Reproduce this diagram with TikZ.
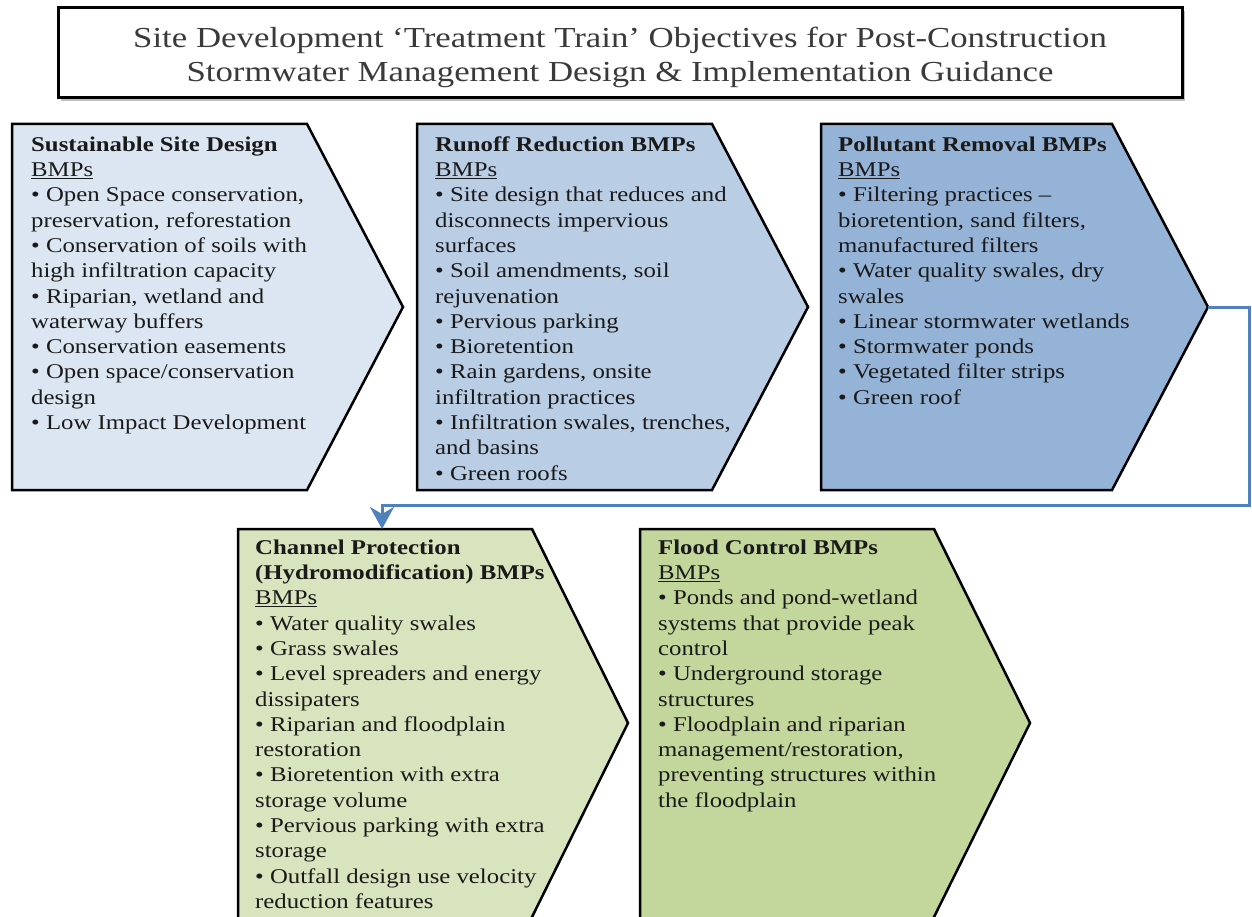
\documentclass[tikz,border=0pt]{standalone}
\usepackage{fontspec}
\setmainfont{Liberation Serif}
\newfontfamily\bodyfont{Liberation Serif}[FakeStretch=1.18]
\newfontfamily\titlefont{Liberation Serif}[FakeStretch=1.2]
\usetikzlibrary{arrows.meta}
\definecolor{fillA}{HTML}{DCE6F2}
\definecolor{fillB}{HTML}{B9CDE5}
\definecolor{fillC}{HTML}{95B3D7}
\definecolor{fillD}{HTML}{D7E4BD}
\definecolor{fillE}{HTML}{C3D69B}
\definecolor{txt}{HTML}{1A1A1A}
\definecolor{ttxt}{HTML}{3A3A3A}
\definecolor{conncol}{HTML}{4F81BD}
\begin{document}
\begin{tikzpicture}[x=1pt,y=-1pt,
  chev/.style={draw=black, line width=2.5pt, line join=miter},
  body/.style={anchor=north west, inner sep=0pt, align=left, text=txt,
    font=\bodyfont\fontsize{21}{25.3}\selectfont},
  titlebox/.style={draw=black, line width=3pt, fill=white, minimum width=1124pt,
    minimum height=90pt, inner sep=0pt},
  titletext/.style={inner sep=0pt, align=center, text=ttxt,
    font=\titlefont\fontsize{29}{34}\selectfont},
  conn/.style={draw=conncol, line width=3pt,
    -{Stealth[length=22pt, width=24pt, inset=7pt]}}]
\useasboundingbox (0,0) rectangle (1252,917);
\clip (0,0) rectangle (1252,917);
\fill[white] (0,0) rectangle (1252,917);

% title
\fill[gray!50] (61,11) rectangle (1185,101);
\node[titlebox] (titlebox) at (620,53) {};
\node[titletext] (title) at (620,57) {Site Development ‘Treatment Train’ Objectives for Post-Construction\\Stormwater Management Design \& Implementation Guidance};

% chevrons top row
\draw[chev, fill=fillA] (12,124) -- (307,124) -- (403,307) -- (307,490) -- (12,490) -- cycle;
\draw[chev, fill=fillB] (417,124) -- (712,124) -- (808,307) -- (712,490) -- (417,490) -- cycle;
\draw[chev, fill=fillC] (821,124) -- (1112,124) -- (1208,307) -- (1112,490) -- (821,490) -- cycle;
% bottom row
\draw[chev, fill=fillD] (238,940) -- (238,529) -- (532,529) -- (628,723) -- (532,917) -- (541,935);
\draw[chev, fill=fillE] (640,940) -- (640,529) -- (934,529) -- (1030,723) -- (934,917) -- (943,935);

\coordinate (tip3) at (1208,307);
\coordinate (chtop) at (382,529);

% texts
\node[body] (t1) at (31,133.3) {\strut\textbf{Sustainable Site Design}\\
\underline{BMPs}\\
• Open Space conservation,\\
preservation, reforestation\\
• Conservation of soils with\\
high infiltration capacity\\
• Riparian, wetland and\\
waterway buffers\\
• Conservation easements\\
• Open space/conservation\\
design\\
• Low Impact Development};

\node[body] (t2) at (435,133.3) {\strut\textbf{Runoff Reduction BMPs}\\
\underline{BMPs}\\
• Site design that reduces and\\
disconnects impervious\\
surfaces\\
• Soil amendments, soil\\
rejuvenation\\
• Pervious parking\\
• Bioretention\\
• Rain gardens, onsite\\
infiltration practices\\
• Infiltration swales, trenches,\\
and basins\\
• Green roofs};

\node[body] (t3) at (838,133.3) {\strut\textbf{Pollutant Removal BMPs}\\
\underline{BMPs}\\
• Filtering practices –\\
bioretention, sand filters,\\
manufactured filters\\
• Water quality swales, dry\\
swales\\
• Linear stormwater wetlands\\
• Stormwater ponds\\
• Vegetated filter strips\\
• Green roof};

\node[body] (t4) at (255,536.3) {\strut\textbf{Channel Protection}\\
\textbf{(Hydromodification) BMPs}\\
\underline{BMPs}\\
• Water quality swales\\
• Grass swales\\
• Level spreaders and energy\\
dissipaters\\
• Riparian and floodplain\\
restoration\\
• Bioretention with extra\\
storage volume\\
• Pervious parking with extra\\
storage\\
• Outfall design use velocity\\
reduction features};

\node[body] (t5) at (658,536.3) {\strut\textbf{Flood Control BMPs}\\
\underline{BMPs}\\
• Ponds and pond-wetland\\
systems that provide peak\\
control\\
• Underground storage\\
structures\\
• Floodplain and riparian\\
management/restoration,\\
preventing structures within\\
the floodplain};

% connector
\draw[conn] (tip3) -- (1249,307) -- (1249,505) -| (chtop);
\end{tikzpicture}
\end{document}
